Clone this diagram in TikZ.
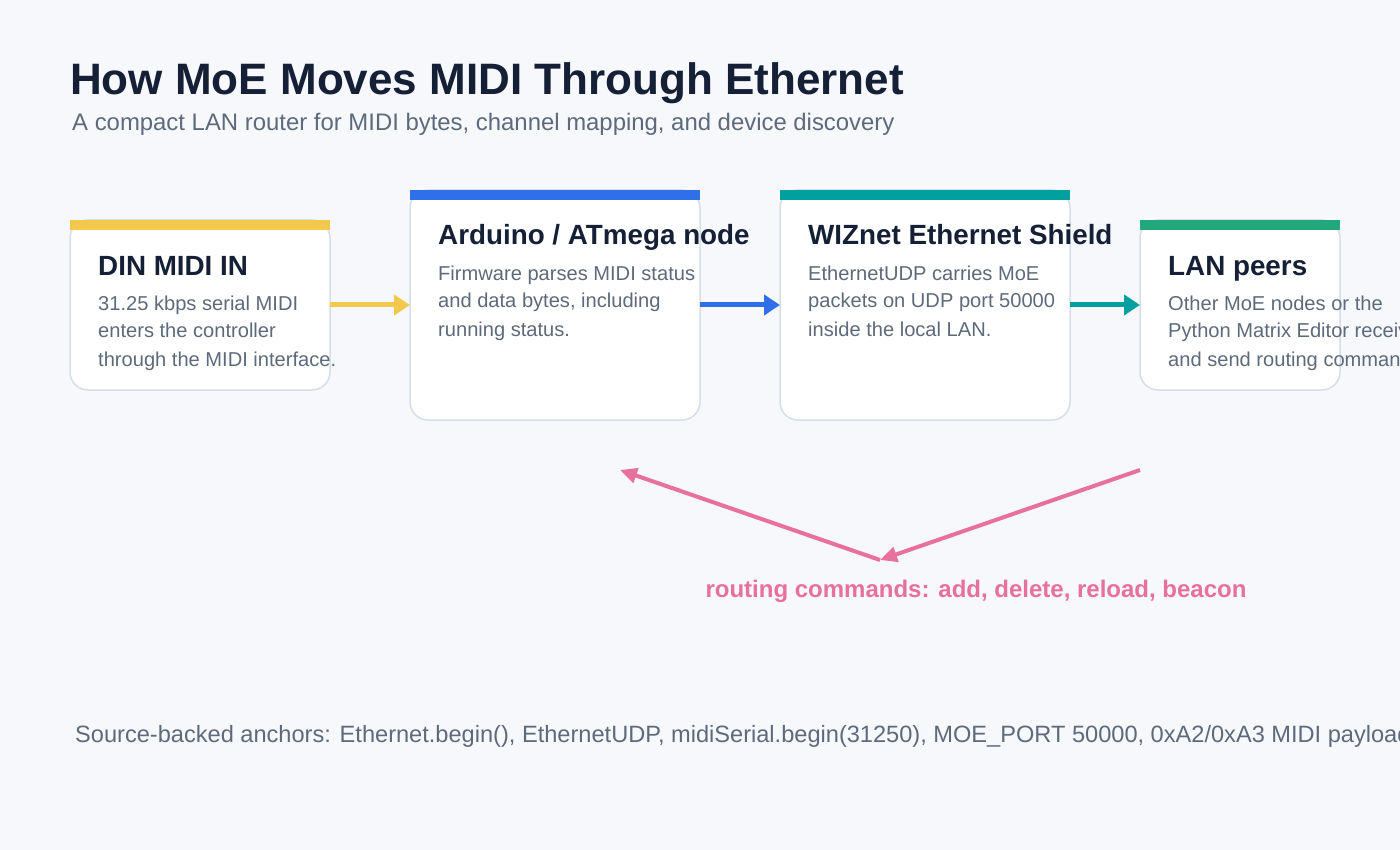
\documentclass[tikz,border=0pt]{standalone}
\usepackage{fontspec}
\setmainfont{Liberation Sans}
\usetikzlibrary{arrows.meta}
\definecolor{bg}{HTML}{F6F8FC}
\definecolor{ink}{HTML}{152036}
\definecolor{muted}{HTML}{5E6A7B}
\definecolor{edge}{HTML}{D6DEE8}
\definecolor{cyel}{HTML}{F2C94C}
\definecolor{cblue}{HTML}{2F6FEA}
\definecolor{cteal}{HTML}{00A0A0}
\definecolor{cgreen}{HTML}{22A87A}
\definecolor{cpink}{HTML}{E8709C}
\begin{document}
\begin{tikzpicture}[x=1pt,y=-1pt,
  card/.style={draw=edge, line width=1.5pt, fill=white, rounded corners=18pt, inner sep=0pt, outer sep=0pt, anchor=north west},
  ttl/.style={anchor=base west, inner sep=0pt, text=ink, font=\fontsize{27.8}{30}\selectfont\bfseries},
  body/.style={anchor=base west, inner sep=0pt, text=muted, font=\fontsize{20.1}{28}\selectfont},
  flow/.style={line width=5pt, -{Triangle[length=16pt,width=20pt]}},
  cmd/.style={line width=4pt, cpink, -{Triangle[length=17pt,width=15pt]}}
]
\useasboundingbox (0,0) rectangle (1400,850);
\fill[bg] (0,0) rectangle (1400,850);
\clip (0,0) rectangle (1400,850);

\node[anchor=base west, inner sep=0pt, text=ink, font=\fontsize{44}{48}\selectfont\bfseries] (title) at (70,95) {How MoE Moves MIDI Through Ethernet};
\node[anchor=base west, inner sep=0pt, text=muted, font=\fontsize{23.9}{26}\selectfont] (sub) at (72,131) {A compact LAN router for MIDI bytes, channel mapping, and device discovery};

% cards
\node[card, minimum width=260pt, minimum height=170pt] (din) at (70,220) {};
\node[card, minimum width=290pt, minimum height=230pt] (ard) at (410,190) {};
\node[card, minimum width=290pt, minimum height=230pt] (wiz) at (780,190) {};
\node[card, minimum width=200pt, minimum height=170pt] (lan) at (1140,220) {};

\fill[cyel] (din.north west) rectangle ([yshift=-10pt]din.north east);
\fill[cblue] (ard.north west) rectangle ([yshift=-10pt]ard.north east);
\fill[cteal] (wiz.north west) rectangle ([yshift=-10pt]wiz.north east);
\fill[cgreen] (lan.north west) rectangle ([yshift=-10pt]lan.north east);

\node[ttl] (dint) at (98,276) {DIN MIDI IN};
\node[body] (dinb) at (98,310) {\parbox[t]{400pt}{31.25 kbps serial MIDI\\enters the controller\\through the MIDI interface.}};

\node[ttl] (ardt) at (438,245) {Arduino / ATmega node};
\node[body] (ardb) at (438,280) {\parbox[t]{400pt}{Firmware parses MIDI status\\and data bytes, including\\running status.}};

\node[ttl] (wizt) at (808,245) {WIZnet Ethernet Shield};
\node[body] (wizb) at (808,280) {\parbox[t]{400pt}{EthernetUDP carries MoE\\packets on UDP port 50000\\inside the local LAN.}};

\node[ttl] (lant) at (1168,276) {LAN peers};
\node[body] (lanb) at (1168,310) {\parbox[t]{400pt}{Other MoE nodes or the\\Python Matrix Editor receives\\and send routing commands.}};

% flow arrows
\draw[flow, cyel] (din) -- (ard);
\draw[flow, cblue] (ard) -- (wiz);
\draw[flow, cteal] (wiz) -- (lan);

% routing commands
\coordinate (rs) at (1140,470);
\coordinate (rm) at (880,560);
\coordinate (rt) at (620,470);
\draw[cmd] (rs) -- (rm);
\draw[cmd] (rm) -- (rt);
\node[anchor=base, inner sep=0pt, text=cpink, font=\fontsize{24}{26}\selectfont\bfseries] (cmdl) at (976,597) {routing commands: add, delete, reload, beacon};

\node[anchor=base west, inner sep=0pt, text=muted, font=\fontsize{23.6}{26}\selectfont] (foot) at (75,742) {Source-backed anchors: Ethernet.begin(), EthernetUDP, midiSerial.begin(31250), MOE\_PORT 50000, 0xA2/0xA3 MIDI payloads};
\end{tikzpicture}
\end{document}
